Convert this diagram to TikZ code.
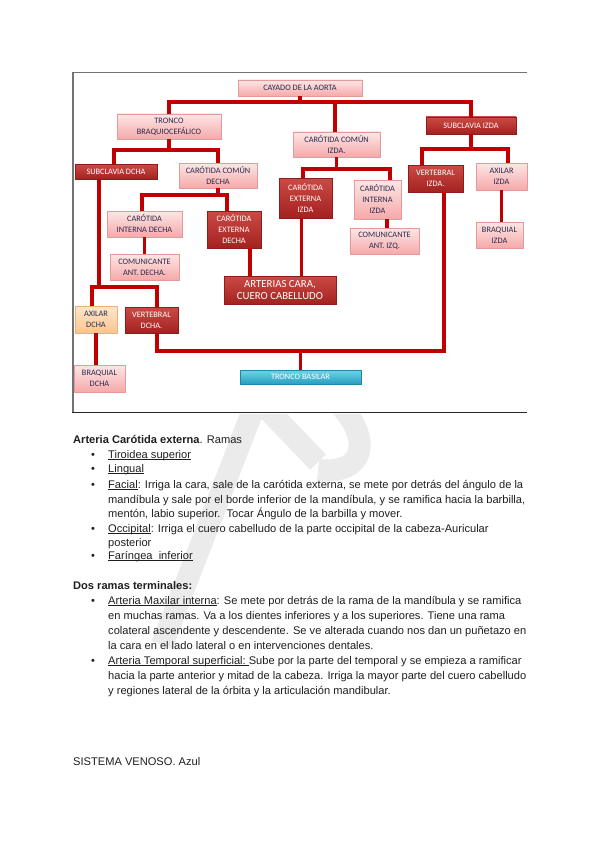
\documentclass[tikz,border=0pt]{standalone}
\usepackage{fontspec}
\setmainfont{Liberation Sans}
\newfontfamily\boxfont{Carlito}
\newcommand{\ulx}[1]{\setbox0\hbox{#1}\rlap{\rule[-1.7pt]{\wd0}{0.6pt}}\box0}
\definecolor{connred}{HTML}{C00000}
\definecolor{pinktop}{HTML}{FDE6E6}
\definecolor{pinkbot}{HTML}{F5A9A9}
\definecolor{pinkedge}{HTML}{E49A9A}
\definecolor{redtop}{HTML}{CC4A46}
\definecolor{redbot}{HTML}{A3221F}
\definecolor{rededge}{HTML}{8E1C1A}
\definecolor{peachtop}{HTML}{FEE6CC}
\definecolor{peachbot}{HTML}{FAC58F}
\definecolor{peachedge}{HTML}{EDB07A}
\definecolor{bluetop}{HTML}{6AD6EE}
\definecolor{bluebot}{HTML}{2A9DBE}
\definecolor{blueedge}{HTML}{1F86A6}
\definecolor{navytext}{HTML}{2A2A4C}
\tikzset{
  boxbase/.style={draw, line width=0.6pt, inner sep=0.5pt, align=center,
    font=\boxfont\fontsize{8.3}{11}\selectfont},
  pinkbox/.style={boxbase, top color=pinktop, bottom color=pinkbot, draw=pinkedge, text=navytext},
  redbox/.style={boxbase, top color=redtop, bottom color=redbot, draw=rededge, text=white},
  peachbox/.style={boxbase, top color=peachtop, bottom color=peachbot, draw=peachedge, text=navytext},
  bluebox/.style={boxbase, top color=bluetop, bottom color=bluebot, draw=blueedge, text=white,
    font=\boxfont\fontsize{8.3}{9}\selectfont},
  conn/.style={draw=connred, line width=3.2pt},
  body/.style={anchor=base west, inner sep=0pt, font=\fontsize{11.1}{13}\selectfont, text=black!88},
  bul/.style={anchor=base, inner sep=0pt, font=\fontsize{11}{13}\selectfont, text=black!88},
  wm/.style={draw=black!8, line width=22pt}
}
\begin{document}
\begin{tikzpicture}[x=1pt,y=-1pt]
\useasboundingbox (0,0) rectangle (599,848);
\fill[white] (0,0) rectangle (599,848);

% watermark
\begin{scope}
\clip (0,414) rectangle (599,848);
\draw[wm] (255,405) -- (162,645);
\draw[wm] (268,410) -- (318,462);
\draw[wm] (340,405) .. controls (372,440) and (365,475) .. (318,470);
\end{scope}

% frame
\draw[black!55, line width=1.8pt] (527,72.5) -- (73,72.5) -- (73,412.5);
\draw[black!85, line width=1pt] (72.1,412.5) -- (527,412.5);

% boxes
\node[pinkbox, minimum width=124pt, minimum height=16pt] (cay) at (300,88) {CAYADO DE LA AORTA};
\node[pinkbox, minimum width=104pt, minimum height=25pt] (tbc) at (169,126.5) {TRONCO\\BRAQUIOCEFÁLICO};
\node[pinkbox, minimum width=87pt, minimum height=25pt] (cci) at (336.5,144.5) {CARÓTIDA COMÚN\\IZDA.};
\node[redbox, minimum width=90pt, minimum height=17pt] (sci) at (471,125.5) {SUBCLAVIA IZDA};
\node[redbox, minimum width=82pt, minimum height=15pt] (scd) at (116,171.5) {SUBCLAVIA DCHA};
\node[pinkbox, minimum width=78pt, minimum height=25pt] (ccd) at (218,175.5) {CARÓTIDA COMÚN\\DECHA};
\node[redbox, minimum width=55pt, minimum height=27pt] (vi) at (435.5,178.5) {VERTEBRAL\\IZDA.};
\node[pinkbox, minimum width=51pt, minimum height=27pt] (ai) at (501.5,176.5) {AXILAR\\IZDA};
\node[redbox, minimum width=53pt, minimum height=40pt] (cei) at (305.5,198) {CARÓTIDA\\EXTERNA\\IZDA};
\node[pinkbox, minimum width=47pt, minimum height=39pt] (cii) at (377.5,199.5) {CARÓTIDA\\INTERNA\\IZDA};
\node[pinkbox, minimum width=69pt, minimum height=26pt] (cmi) at (384.5,241) {COMUNICANTE\\ANT. IZQ.};
\node[pinkbox, minimum width=47pt, minimum height=26pt] (bi) at (499.5,235) {BRAQUIAL\\IZDA};
\node[pinkbox, minimum width=75pt, minimum height=26pt] (cid) at (144.5,224) {CARÓTIDA\\INTERNA DECHA};
\node[redbox, minimum width=54pt, minimum height=37pt] (ced) at (234,229.5) {CARÓTIDA\\EXTERNA\\DECHA};
\node[pinkbox, minimum width=69pt, minimum height=26pt] (cmd) at (144.5,267) {COMUNICANTE\\ANT. DECHA.};
\node[redbox, minimum width=112pt, minimum height=28pt, font=\boxfont\fontsize{10.8}{12.2}\selectfont] (art) at (280,290) {ARTERIAS CARA,\\CUERO CABELLUDO};
\node[peachbox, minimum width=42pt, minimum height=27pt] (ad) at (96,319.5) {AXILAR\\DCHA};
\node[redbox, minimum width=53pt, minimum height=26pt] (vd) at (151.5,320) {VERTEBRAL\\DCHA.};
\node[pinkbox, minimum width=51pt, minimum height=27pt] (bd) at (99.5,378.5) {BRAQUIAL\\DCHA};
\node[bluebox, minimum width=121pt, minimum height=14pt] (tb) at (300.5,377) {TRONCO BASILAR};

% connectors
\coordinate (j1) at (300,102);
\draw[conn] (tbc.north) -- (tbc.north |- j1) -| (sci.north);
\draw[conn] (cay.south) -- (j1);
\draw[conn] ([xshift=-1.5pt]cci.north) -- ([xshift=-1.5pt]cci.north |- j1);

\coordinate (j2) at (171,150);
\draw[conn] (tbc.south) -- (tbc.south |- j2);
\draw[conn] ([xshift=-2pt]scd.north) |- (j2) -| (ccd.north);

\coordinate (j3) at (467,149);
\draw[conn] (sci.south) -- (sci.south |- j3);
\draw[conn] ([xshift=-13.5pt]vi.north) |- (j3) -| ([xshift=6.5pt]ai.north);

\coordinate (j4) at (335,169);
\draw[conn] (cci.south) -- (cci.south |- j4);
\draw[conn] ([xshift=-2.5pt]cei.north) |- (j4) -| ([xshift=12.5pt]cii.north);

\coordinate (j5) at (218,195);
\draw[conn] (ccd.south) -- (ccd.south |- j5);
\draw[conn] ([xshift=-2.5pt]cid.north) |- (j5) -| ([xshift=-7pt]ced.north);

\draw[conn] (cid.south) -- (cid.south |- cmd.north);
\draw[conn] ([xshift=16pt]ced.south) -- ([xshift=16pt]ced.south |- art.north);
\draw[conn] ([xshift=-4pt]cei.south) -- ([xshift=-4pt]cei.south |- art.north);
\draw[conn] ([xshift=9.5pt]cii.south) -- ([xshift=9.5pt]cii.south |- cmi.north);
\draw[conn] (ai.south) -- (ai.south |- bi.north);

\coordinate (j6) at (99,287);
\draw[conn] ([xshift=-17pt]scd.south) -- ([xshift=-17pt]scd.south |- j6);
\draw[conn] ([xshift=-4pt]ad.north) |- (j6) -| ([xshift=5.5pt]vd.north);
\draw[conn] (ad.south) -- (ad.south |- bd.north);

\coordinate (j7) at (300,351);
\draw[conn] ([xshift=5.5pt]vd.south) |- (j7) -| ([xshift=8.5pt]vi.south);
\draw[conn] (tb.north) -- (tb.north |- j7);

% body text
\node[body] (t0) at (73,443) {\textbf{Arteria Carótida externa}. Ramas};
\node[bul] (b1) at (93,458) {\textbullet};
\node[body] (t1) at (108,458) {\ulx{Tiroidea superior}};
\node[bul] (b2) at (93,472) {\textbullet};
\node[body] (t2) at (108,472) {\ulx{Lingual}};
\node[bul] (b3) at (93,488) {\textbullet};
\node[body] (t3) at (108,488) {\ulx{Facial}: Irriga la cara, sale de la carótida externa, se mete por detrás del ángulo de la};
\node[body] (t4) at (108,503) {mandíbula y sale por el borde inferior de la mandíbula, y se ramifica hacia la barbilla,};
\node[body] (t5) at (108,517) {mentón, labio superior.\ \ Tocar Ángulo de la barbilla y mover.};
\node[bul] (b4) at (93,532) {\textbullet};
\node[body] (t6) at (108,532) {\ulx{Occipital}: Irriga el cuero cabelludo de la parte occipital de la cabeza-Auricular};
\node[body] (t7) at (108,546) {posterior};
\node[bul] (b5) at (93,559) {\textbullet};
\node[body] (t8) at (108,559) {\ulx{Faríngea\ \ inferior}};

\node[body] (t9) at (73,589) {\textbf{Dos ramas terminales:}};
\node[bul] (b6) at (93,604) {\textbullet};
\node[body] (t10) at (108,604) {\ulx{Arteria Maxilar interna}: Se mete por detrás de la rama de la mandíbula y se ramifica};
\node[body] (t11) at (108,619) {en muchas ramas. Va a los dientes inferiores y a los superiores. Tiene una rama};
\node[body] (t12) at (108,634) {colateral ascendente y descendente. Se ve alterada cuando nos dan un puñetazo en};
\node[body] (t13) at (108,649) {la cara en el lado lateral o en intervenciones dentales.};
\node[bul] (b7) at (93,664) {\textbullet};
\node[body] (t14) at (108,664) {\ulx{Arteria Temporal superficial:\ }Sube por la parte del temporal y se empieza a ramificar};
\node[body] (t15) at (108,679) {hacia la parte anterior y mitad de la cabeza. Irriga la mayor parte del cuero cabelludo};
\node[body] (t16) at (108,694) {y regiones lateral de la órbita y la articulación mandibular.};

\node[body] (t17) at (73,765) {SISTEMA VENOSO. Azul};
\end{tikzpicture}
\end{document}
